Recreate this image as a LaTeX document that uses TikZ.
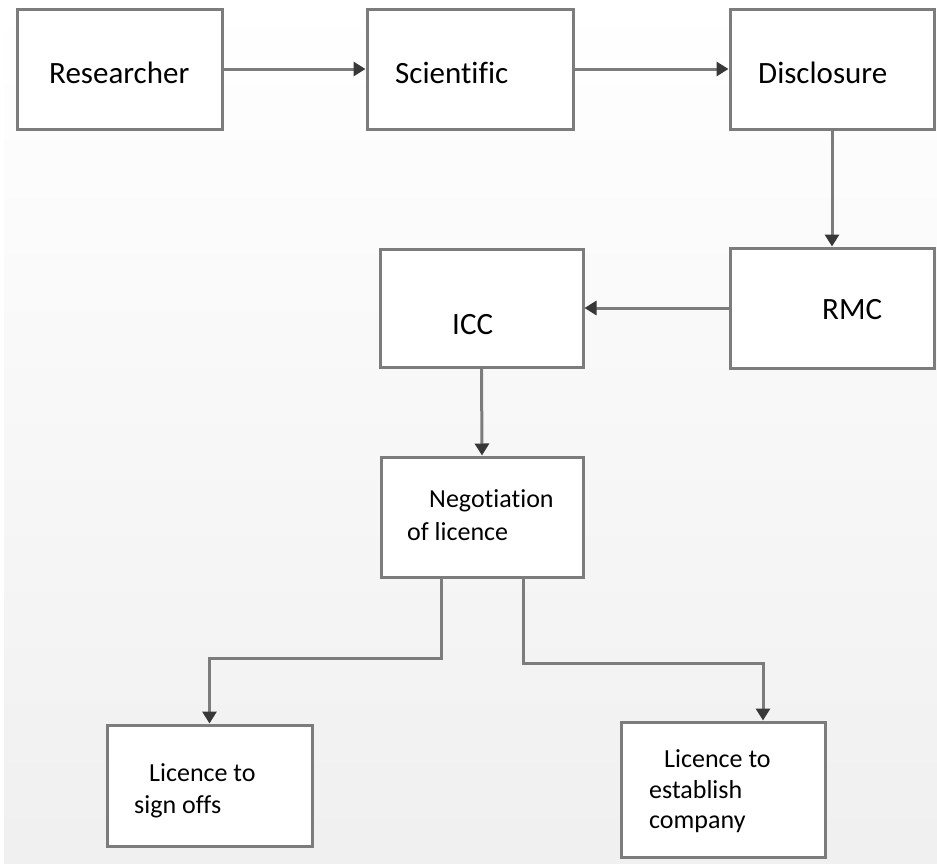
\documentclass[tikz,border=0pt]{standalone}
\usepackage{fontspec}
\setmainfont[Ligatures=NoCommon]{Carlito}
\usetikzlibrary{arrows.meta,shadows,calc}
\definecolor{boxline}{HTML}{7C7C7C}
\definecolor{tipcol}{HTML}{383838}
\definecolor{shadowcol}{HTML}{C4C4C4}
\begin{document}
\begin{tikzpicture}[x=1pt,y=-1pt,
  box/.style={draw=boxline, line width=3pt, fill=white, inner sep=0pt,
    drop shadow={shadow xshift=2pt, shadow yshift=-2pt, fill=shadowcol, opacity=1}},
  conn/.style={draw=boxline, line width=3pt,
    -{Triangle[length=12pt,width=14pt,color=tipcol]}},
  bigtxt/.style={font=\fontsize{31}{37}\selectfont, inner sep=0pt, anchor=base west},
  smtxt/.style={font=\fontsize{26}{32}\selectfont, inner sep=0pt, anchor=base west}]
\useasboundingbox (0,0) rectangle (937,863);
\shade[top color=white, bottom color=black!6] (4,0) rectangle (937,863);

% boxes
\node[box, minimum width=205pt, minimum height=120pt] (res) at (119.5,69) {};
\node[box, minimum width=206pt, minimum height=120pt] (sci) at (470,69) {};
\node[box, minimum width=204pt, minimum height=120pt] (dis) at (832,69) {};
\node[box, minimum width=204pt, minimum height=120pt] (rmc) at (832,308) {};
\node[box, minimum width=203pt, minimum height=118pt] (icc) at (481.5,308) {};
\node[box, minimum width=202pt, minimum height=120pt] (neg) at (482,517) {};
\node[box, minimum width=205pt, minimum height=121pt] (sign) at (209.5,785.5) {};
\node[box, minimum width=204pt, minimum height=135pt] (est) at (723,789.5) {};

% texts
\node[bigtxt] (tres) at (49,83) {Researcher};
\node[bigtxt] (tsci) at (395,83) {Scientific};
\node[bigtxt] (tdis) at (758,83) {Disclosure};
\node[bigtxt] (trmc) at (822,319) {RMC};
\node[bigtxt] (ticc) at (452,334) {ICC};
\node[smtxt] (tneg1) at (429,507) {Negotiation};
\node[smtxt] (tneg2) at (407,540) {of licence};
\node[smtxt] (tsig1) at (149,781) {Licence to};
\node[smtxt] (tsig2) at (134,813) {sign offs};
\node[smtxt] (test1) at (664,767) {Licence to};
\node[smtxt] (test2) at (649,798) {establish};
\node[smtxt] (test3) at (649,828) {company};

% connectors
\draw[conn] (res.east) -- (sci.west);
\draw[conn] (sci.east) -- (dis.west);
\draw[conn] (dis.south) -- (rmc.north);
\draw[conn] (rmc.west) -- (icc.east);
\draw[conn] (icc.south) -- (neg.north);
\draw[conn] ([xshift=-41pt]neg.south) -- ++(0,80) -| (sign.north);
\draw[conn] ([xshift=41pt]neg.south) -- ++(0,85) -| ([xshift=40pt]est.north);
\end{tikzpicture}
\end{document}
